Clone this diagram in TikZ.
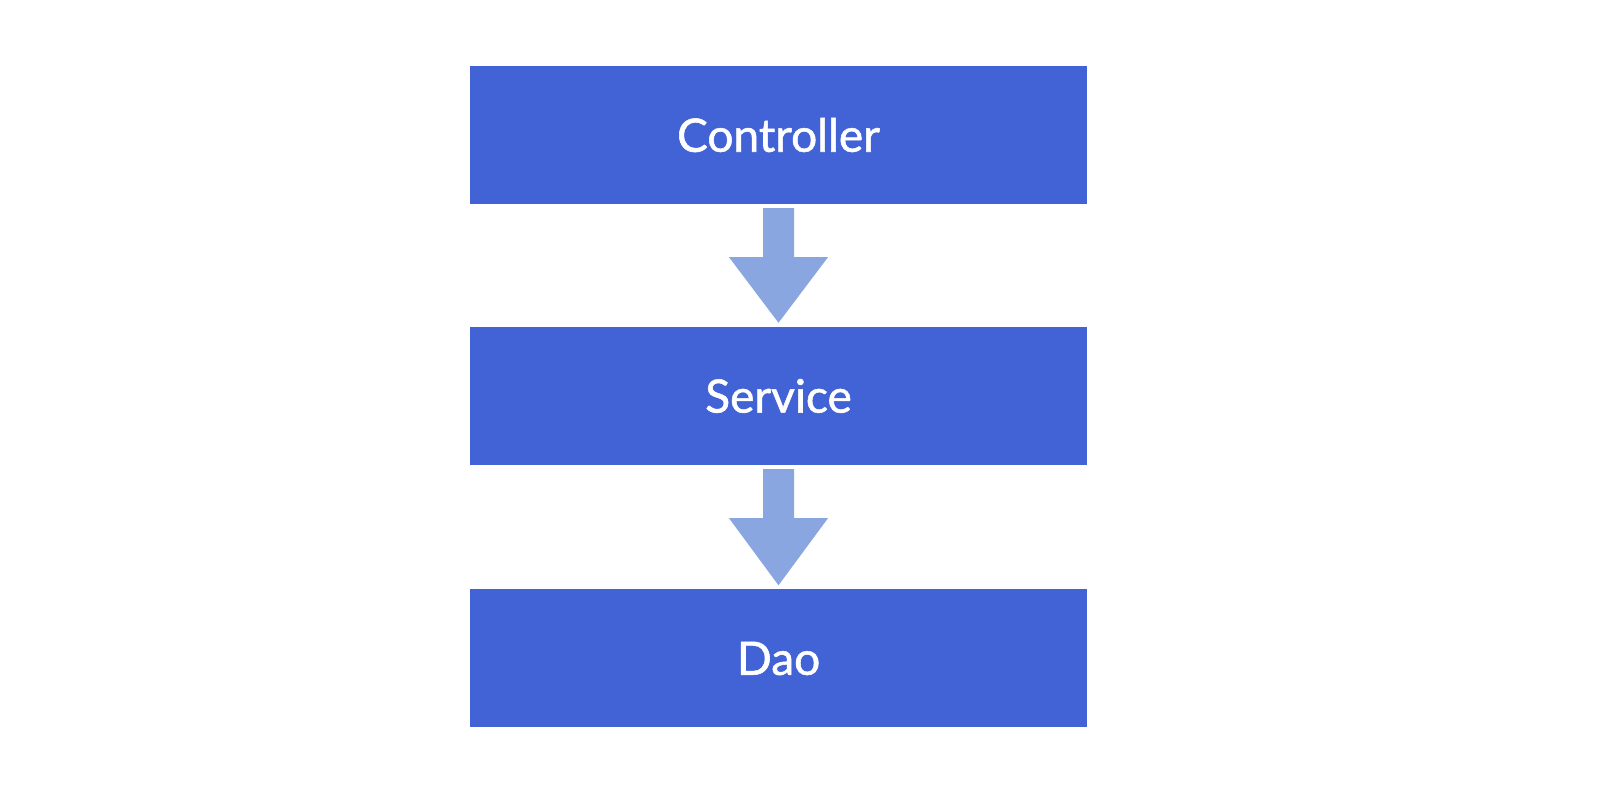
\documentclass[tikz,border=0pt]{standalone}
\usepackage{fontspec}
\setmainfont{Lato}
\newfontfamily\layerfont{Lato}[FakeBold=1.2]
\usetikzlibrary{calc}
\definecolor{boxblue}{RGB}{66,99,214}
\definecolor{arrowblue}{RGB}{137,166,224}
\tikzset{layer/.style={fill=boxblue, text=white, minimum width=617pt, minimum height=138pt, inner sep=0pt, font=\layerfont\fontsize{46}{55}\selectfont}}

\begin{document}
\begin{tikzpicture}[x=1pt,y=1pt]
\useasboundingbox (0,0) rectangle (1600,800);
\node (C) at (778.5,665) [layer] {Controller};
\node (S) at (778.5,404) [layer] {Service};
\node (D) at (778.5,141.5) [layer] {Dao};
\fill [arrowblue] ($(C.south)+(-15.5,-4)$) -- ($(C.south)+(15.5,-4)$) -- ($(C.south)+(15.5,-53)$) -- ($(C.south)+(49.5,-53)$) -- ($(S.north)+(0,4)$) -- ($(C.south)+(-49.5,-53)$) -- ($(C.south)+(-15.5,-53)$) -- cycle;
\fill [arrowblue] ($(S.south)+(-15.5,-4)$) -- ($(S.south)+(15.5,-4)$) -- ($(S.south)+(15.5,-53)$) -- ($(S.south)+(49.5,-53)$) -- ($(D.north)+(0,4)$) -- ($(S.south)+(-49.5,-53)$) -- ($(S.south)+(-15.5,-53)$) -- cycle;
\end{tikzpicture}
\end{document}
